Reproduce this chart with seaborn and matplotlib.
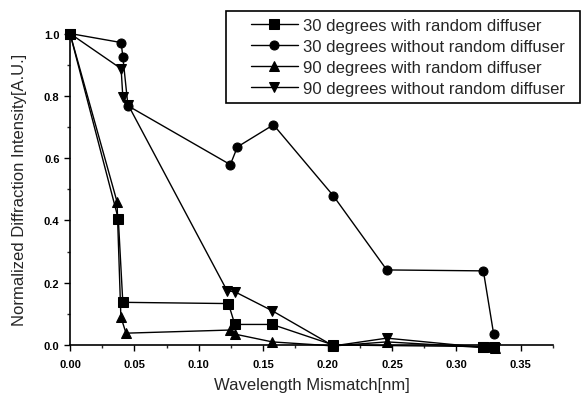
import matplotlib
matplotlib.use("Agg")
import matplotlib.pyplot as plt
import seaborn as sns
import pandas as pd
from matplotlib.ticker import MultipleLocator
from matplotlib.patches import Rectangle

labels = ["30 degrees with random diffuser",
          "30 degrees without random diffuser",
          "90 degrees with random diffuser",
          "90 degrees without random diffuser"]

x_sq = [0.0, 0.0375, 0.041, 0.123, 0.128, 0.157, 0.2045, 0.321, 0.329]
y_sq = [1.0, 0.405, 0.137, 0.133, 0.066, 0.066, 0.0, -0.005, -0.005]

x_ci = [0.0, 0.0397, 0.041, 0.045, 0.1245, 0.130, 0.158, 0.2045, 0.246, 0.321, 0.329]
y_ci = [1.0, 0.971, 0.926, 0.768, 0.579, 0.636, 0.707, 0.479, 0.241, 0.238, 0.035]

x_tu = [0.0, 0.0365, 0.0395, 0.0435, 0.124, 0.128, 0.157, 0.2045, 0.246, 0.321, 0.330]
y_tu = [1.0, 0.46, 0.09, 0.038, 0.048, 0.035, 0.01, -0.003, 0.01, -0.008, -0.01]

x_td = [0.0, 0.0397, 0.041, 0.045, 0.122, 0.128, 0.157, 0.2045, 0.246, 0.321, 0.330]
y_td = [1.0, 0.887, 0.797, 0.772, 0.174, 0.171, 0.11, -0.003, 0.022, -0.008, -0.01]

series = [(x_sq, y_sq, "s"), (x_ci, y_ci, "o"), (x_tu, y_tu, "^"), (x_td, y_td, "v")]

sns.set_style("ticks")
plt.rcParams['font.family'] = ['Liberation Sans', 'DejaVu Sans']

W, H = 582, 402
fig = plt.figure(figsize=(W / 100, H / 100), dpi=100)
ax = fig.add_axes([0.1203, 0.1393, 0.8297, 0.7787])

for (xs, ys, m), lab in zip(series, labels):
    df = pd.DataFrame({"x": xs, "y": ys})
    sns.lineplot(data=df, x="x", y="y", ax=ax, color="black", marker=m,
                 markersize=6.5, markeredgecolor="black", linewidth=1.0,
                 sort=False, estimator=None, label=lab, clip_on=False)

ax.set_xlim(0, 0.375)
ax.set_ylim(0, 1.005)
ax.xaxis.set_major_locator(MultipleLocator(0.05))
ax.xaxis.set_minor_locator(MultipleLocator(0.025))
ax.yaxis.set_major_locator(MultipleLocator(0.2))
ax.yaxis.set_minor_locator(MultipleLocator(0.1))
ax.set_xticklabels([f"{v:.2f}" for v in ax.get_xticks()], fontweight="bold")
ax.set_yticklabels([f"{v:.1f}" for v in ax.get_yticks()], fontweight="bold")
ax.tick_params(axis="both", which="major", direction="out", length=4, width=1, labelsize=8, colors="black")
ax.tick_params(axis="x", which="major", pad=6)
ax.tick_params(axis="both", which="minor", direction="out", length=2.5, width=1)
for s in ["top", "right"]:
    ax.spines[s].set_visible(False)
for s in ["left", "bottom"]:
    ax.spines[s].set_linewidth(1.2)
    ax.spines[s].set_color("black")

ax.set_xlabel("Wavelength Mismatch[nm]", fontsize=12, labelpad=6)
ax.set_ylabel("Normalized Diffraction Intensity[A.U.]", fontsize=12, labelpad=12)

leg = ax.legend(loc="upper left", bbox_to_anchor=(251 / W, 1 - 19 / H),
                bbox_transform=fig.transFigure, frameon=False,
                fontsize=12, handlelength=2.8,
                borderpad=0, labelspacing=0.36, handletextpad=0.3,
                borderaxespad=0, numpoints=1)

fig.patches.append(Rectangle((226 / W, 1 - 104 / H), 354 / W, 92 / H,
                             transform=fig.transFigure, fill=False,
                             edgecolor="black", linewidth=1.2))

fig.savefig("out.png", dpi=100)
